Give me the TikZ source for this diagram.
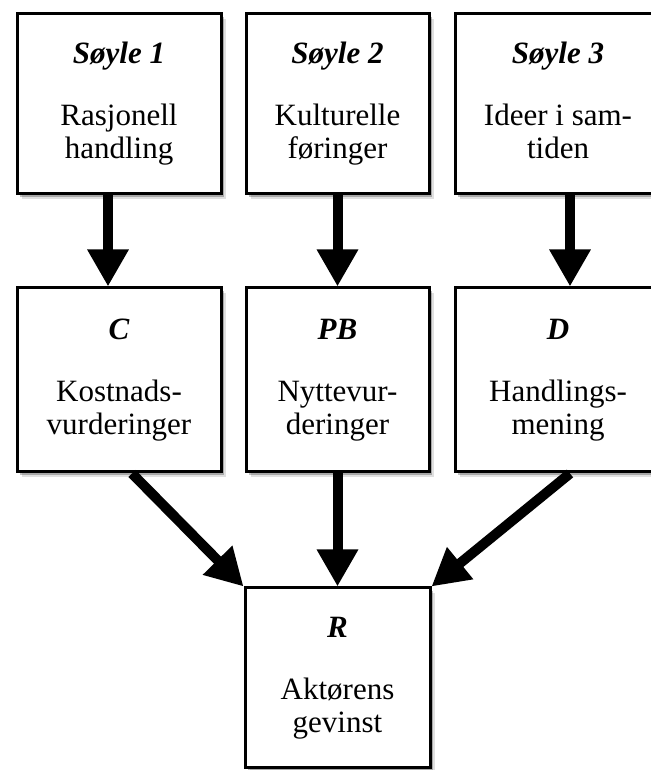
\documentclass[tikz,border=0pt]{standalone}
\usepackage{fontspec}
\setmainfont{Liberation Serif}
\usetikzlibrary{arrows.meta,shadows}
\begin{document}
\begin{tikzpicture}[x=1pt,y=1pt,
    pillarbox/.style={draw, line width=3pt, fill=white, align=center, inner sep=0pt,
      minimum height=180pt, font=\fontsize{31}{33}\selectfont,
      drop shadow={shadow xshift=5pt, shadow yshift=-5pt, opacity=0.12, fill=black},
      drop shadow={shadow xshift=3pt, shadow yshift=-3pt, opacity=0.25, fill=black}},
    bigarrow/.style={line width=10pt, -{Triangle[width=39pt,length=37pt]}}]
  \useasboundingbox (0,0) rectangle (650,770);
  % top row
  \node[pillarbox, minimum width=204pt] (s1) at (119,666)
    {\textbf{\textit{Søyle 1}}\\[29pt] Rasjonell\\ handling};
  \node[pillarbox, minimum width=183pt] (s2) at (337.5,666)
    {\textbf{\textit{Søyle 2}}\\[29pt] Kulturelle\\ føringer};
  \node[pillarbox, minimum width=206pt] (s3) at (558,666)
    {\textbf{\textit{Søyle 3}}\\[29pt] Ideer i sam-\\ tiden\vphantom{g}};
  % middle row
  \node[pillarbox, minimum width=204pt, minimum height=184pt] (c) at (119,390)
    {\textbf{\textit{C}}\\[29pt] Kostnads-\\ vurderinger};
  \node[pillarbox, minimum width=183pt, minimum height=184pt] (pb) at (337.5,390)
    {\textbf{\textit{PB}}\\[29pt] Nyttevur-\\ deringer};
  \node[pillarbox, minimum width=206pt, minimum height=184pt] (d) at (558,390)
    {\textbf{\textit{D}}\\[29pt] Handlings-\\ mening};
  % result
  \node[pillarbox, minimum width=185pt] (r) at (337.5,92)
    {\textbf{\textit{R}}\\[29pt] Aktørens\\ gevinst};
  \draw[bigarrow] ([xshift=-11pt]s1.south) -- ([xshift=-11pt]c.north);
  \draw[bigarrow] (s2.south) -- (pb.north);
  \draw[bigarrow] ([xshift=12pt]s3.south) -- ([xshift=12pt]d.north);
  \draw[bigarrow] ([xshift=13pt]c.south) -- (r.north west);
  \draw[bigarrow] (pb.south) -- (r.north);
  \draw[bigarrow] ([xshift=12pt]d.south) -- (r.north east);
\end{tikzpicture}
\end{document}
